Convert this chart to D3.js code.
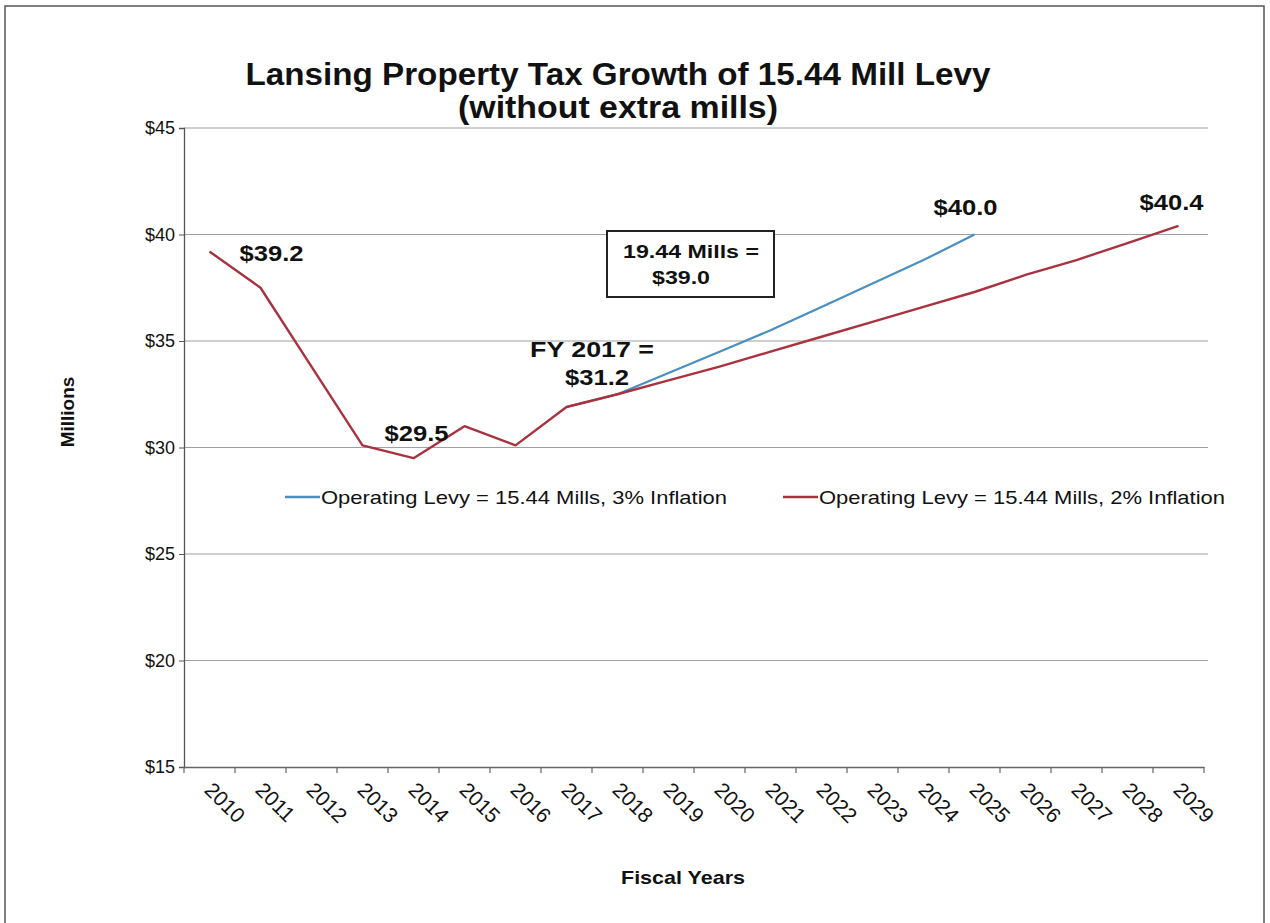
<!DOCTYPE html>
<html>
<head>
<meta charset="utf-8">
<script src="https://cdn.jsdelivr.net/npm/d3@7"></script>
<style>
  html, body { margin: 0; padding: 0; background: #fff; }
  svg { display: block; font-family: "Liberation Sans", Arial, sans-serif; }
</style>
</head>
<body>
<svg id="chart" width="1270" height="923"></svg>
<script>
// ---- data ----
const years = ["2010","2011","2012","2013","2014","2015","2016","2017","2018","2019",
               "2020","2021","2022","2023","2024","2025","2026","2027","2028","2029"];
// Operating Levy = 15.44 Mills, 3% Inflation (projection from 2017 to 2025)
const levy3 = [null,null,null,null,null,null,null,31.9,32.5,33.5,
               34.5,35.5,36.6,37.7,38.8,40.0,null,null,null,null];
// Operating Levy = 15.44 Mills, 2% Inflation (history + projection to 2029)
const levy2 = [39.2,37.5,33.8,30.1,29.5,31.0,30.1,31.9,32.5,33.15,
               33.8,34.5,35.2,35.9,36.6,37.3,38.1,38.8,39.6,40.4];
const seriesNames = ["Operating Levy = 15.44 Mills, 3% Inflation",
                     "Operating Levy = 15.44 Mills, 2% Inflation"];
const yTicks = [15,20,25,30,35,40,45];
const titleLines = ["Lansing Property Tax Growth of 15.44 Mill Levy", "(without extra mills)"];
const annotations = [
  {year:"2010", text:"$39.2"},
  {year:"2014", text:"$29.5"},
  {year:"2025", text:"$40.0"},
  {year:"2029", text:"$40.4"}
];

// ---- layout ----
const svg = d3.select("#chart");
const L = 184, R = 1204, T = 128, B = 767;
const blue = "#4b8fc1", red = "#a8323f";

const x = d3.scaleBand().domain(years).range([L, R]).paddingInner(0).paddingOuter(0);
const cx = d => x(d) + x.bandwidth() / 2;
const y = d3.scaleLinear().domain([15, 45]).range([B, T]);

// outer frame
svg.append("rect").attr("x", 5).attr("y", 6).attr("width", 1259).attr("height", 930)
  .attr("fill", "none").attr("stroke", "#555").attr("stroke-width", 1.5);

// gridlines
svg.append("g").selectAll("line").data(yTicks.filter(v => v > 15)).join("line")
  .attr("x1", L).attr("x2", R + 4).attr("y1", d => y(d)).attr("y2", d => y(d))
  .attr("stroke", "#a0a0a0").attr("stroke-width", 1.2);

// y axis
const yAxis = svg.append("g").attr("transform", `translate(${L},0)`)
  .call(d3.axisLeft(y).tickValues(yTicks).tickFormat(d => "$" + d).tickSize(5).tickPadding(4));
yAxis.select(".domain").attr("stroke", "#555").attr("stroke-width", 1.3);
yAxis.selectAll(".tick line").attr("stroke", "#555");
yAxis.selectAll("text").attr("font-size", 18).attr("fill", "#111");

// x axis
const xAxis = svg.append("g").attr("transform", `translate(0,${B})`)
  .call(d3.axisBottom(x).tickSize(0).tickPadding(0));
xAxis.select(".domain").attr("stroke", "#666").attr("stroke-width", 1.5);
xAxis.selectAll("text")
  .attr("font-size", 21).attr("fill", "#111")
  .attr("text-anchor", "start")
  .attr("transform", "translate(-1,19) rotate(45)")
  .attr("dy", "0.35em");
// boundary ticks
const bounds = years.map(d => x(d)).concat([R]);
svg.append("g").selectAll("line").data(bounds).join("line")
  .attr("x1", d => d).attr("x2", d => d).attr("y1", B).attr("y2", B + 6)
  .attr("stroke", "#666").attr("stroke-width", 1.2);

// lines
const lineGen = d3.line().defined(d => d.v != null).x(d => cx(d.year)).y(d => y(d.v));
const s3 = years.map((yr, i) => ({year: yr, v: levy3[i]}));
const s2 = years.map((yr, i) => ({year: yr, v: levy2[i]}));
svg.append("path").datum(s3).attr("d", lineGen).attr("fill", "none")
  .attr("stroke", blue).attr("stroke-width", 2.2);
svg.append("path").datum(s2).attr("d", lineGen).attr("fill", "none")
  .attr("stroke", red).attr("stroke-width", 2.4).attr("stroke-linejoin", "round");

// legend
const legendItems = [
  {name: seriesNames[0], color: blue, x0: 285},
  {name: seriesNames[1], color: red, x0: 783}
];
const lg = svg.append("g");
legendItems.forEach(it => {
  lg.append("line").attr("x1", it.x0).attr("x2", it.x0 + 35).attr("y1", 497).attr("y2", 497)
    .attr("stroke", it.color).attr("stroke-width", 2.5);
  lg.append("text").attr("x", it.x0 + 36).attr("y", 497).attr("dy", "0.35em")
    .attr("font-size", 19).attr("fill", "#111")
    .attr("textLength", 406).attr("lengthAdjust", "spacingAndGlyphs")
    .text(it.name);
});

// title
svg.append("text").attr("x", 618).attr("y", 85).attr("text-anchor", "middle")
  .attr("font-size", 31).attr("font-weight", "bold").attr("fill", "#111")
  .attr("textLength", 745).attr("lengthAdjust", "spacingAndGlyphs")
  .text(titleLines[0]);
svg.append("text").attr("x", 618).attr("y", 118).attr("text-anchor", "middle")
  .attr("font-size", 31).attr("font-weight", "bold").attr("fill", "#111")
  .attr("textLength", 320).attr("lengthAdjust", "spacingAndGlyphs")
  .text(titleLines[1]);

// axis titles
svg.append("text").attr("transform", "translate(74,412) rotate(-90)").attr("text-anchor", "middle")
  .attr("font-size", 19).attr("font-weight", "bold").attr("fill", "#111").text("Millions");
svg.append("text").attr("x", 683).attr("y", 884).attr("text-anchor", "middle")
  .attr("font-size", 19).attr("font-weight", "bold").attr("fill", "#111")
  .attr("textLength", 124).attr("lengthAdjust", "spacingAndGlyphs").text("Fiscal Years");

// point annotations
const annOffsets = {"2010": [62, 2], "2014": [3, -25], "2025": [-9, -27], "2029": [-7, -24]};
annotations.forEach(a => {
  const i = years.indexOf(a.year);
  const v = a.year === "2025" ? levy3[i] : levy2[i];
  const off = annOffsets[a.year];
  svg.append("text").attr("x", cx(a.year) + off[0]).attr("y", y(v) + off[1])
    .attr("text-anchor", "middle").attr("dy", "0.35em")
    .attr("font-size", 22).attr("font-weight", "bold").attr("fill", "#111")
    .attr("textLength", 64).attr("lengthAdjust", "spacingAndGlyphs")
    .text(a.text);
});

// FY 2017 annotation
svg.append("text").attr("x", 592).attr("y", 357).attr("text-anchor", "middle")
  .attr("font-size", 22).attr("font-weight", "bold").attr("fill", "#111")
  .attr("textLength", 124).attr("lengthAdjust", "spacingAndGlyphs").text("FY 2017 =");
svg.append("text").attr("x", 597).attr("y", 385).attr("text-anchor", "middle")
  .attr("font-size", 22).attr("font-weight", "bold").attr("fill", "#111")
  .attr("textLength", 64).attr("lengthAdjust", "spacingAndGlyphs").text("$31.2");

// 19.44 Mills box
svg.append("rect").attr("x", 607).attr("y", 231).attr("width", 167).attr("height", 66)
  .attr("fill", "#fff").attr("stroke", "#222").attr("stroke-width", 2);
svg.append("text").attr("x", 691).attr("y", 258).attr("text-anchor", "middle")
  .attr("font-size", 18).attr("font-weight", "bold").attr("fill", "#111")
  .attr("textLength", 136).attr("lengthAdjust", "spacingAndGlyphs").text("19.44 Mills  =");
svg.append("text").attr("x", 681).attr("y", 284).attr("text-anchor", "middle")
  .attr("font-size", 18).attr("font-weight", "bold").attr("fill", "#111")
  .attr("textLength", 58).attr("lengthAdjust", "spacingAndGlyphs").text("$39.0");
</script>
</body>
</html>
